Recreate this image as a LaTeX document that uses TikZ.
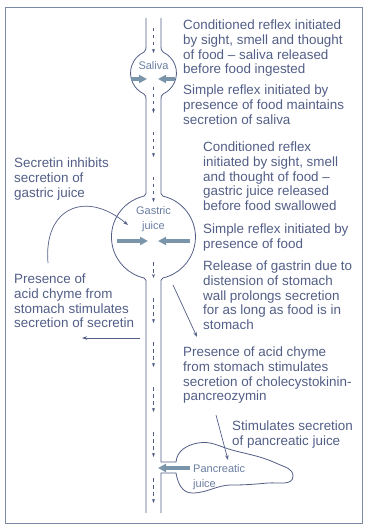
\documentclass[tikz,border=0pt]{standalone}
\usepackage{fontspec}
\setmainfont{Liberation Sans}
\usetikzlibrary{arrows.meta}
\usetikzlibrary{calc}

\definecolor{inkblue}{RGB}{82,94,134}
\definecolor{flowblue}{RGB}{122,148,170}
\definecolor{framegrey}{RGB}{125,138,165}
\definecolor{lablblue}{RGB}{105,125,160}

\tikzset{
    note/.style={anchor=north west, inner sep=0pt, align=left, text=inkblue,
        font=\fontsize{13.4}{14.6}\selectfont},
    lbl/.style={inner sep=0pt, align=center, text=lablblue,
        font=\fontsize{11}{15}\selectfont},
    wall/.style={draw=inkblue, line width=0.8pt},
    flow/.style={draw=inkblue, line width=0.7pt, dash pattern=on 3.5pt off 3.5pt,
        -{Stealth[length=4pt,width=3pt]}},
    push/.style={draw=flowblue, line width=3.5pt, -{Triangle[length=8pt,width=8pt]}},
    cue/.style={draw=inkblue, line width=0.7pt, -{Stealth[length=5pt,width=3.5pt]}},
}

\begin{document}
\begin{tikzpicture}[x=1pt,y=1pt]
    \useasboundingbox (0,0) rectangle (367,-526);
    \draw[framegrey, line width=0.9pt] (5,-7) rectangle (362,-523);

    % tube walls, bulging at the mouth and the stomach
    \draw[wall] (146,-18) -- (146,-46) to[out=-90,in=25] (143.8,-52.2)
        arc[start angle=115, end angle=245, radius=23] to[out=-25,in=90] (146,-100)
        -- (146,-190) to[out=-90,in=13] (144.0,-196.1)
        arc[start angle=103, end angle=257, radius=42] to[out=-13,in=90] (146,-284)
        -- (146,-513);
    \draw[wall] (161,-18) -- (161,-46) to[out=-90,in=155] (163.2,-52.2)
        arc[start angle=65, end angle=-65, radius=23] to[out=-155,in=90] (161,-100)
        -- (161,-190) to[out=-90,in=167] (162.9,-196.1)
        arc[start angle=77, end angle=-77, radius=42] to[out=-167,in=90] (161,-284)
        -- (161,-462) -- (176,-462)
        to[out=85,in=190] (198,-443) to[out=10,in=165] (232,-450)
        to[out=-15,in=155] (278,-464) to[out=-25,in=90] (293,-476)
        to[out=-90,in=5] (268,-483) to[out=185,in=0] (232,-485)
        to[out=180,in=0] (192,-493) to[out=180,in=-80] (176,-473)
        -- (161,-473) -- (161,-513);

    % food moving down the middle
    \foreach \s/\e in {28/53, 87/113, 132/157, 177/202, 262/278, 298/323,
                       342/367, 387/412, 432/457, 478/503} {
        \draw[flow] (153.5,-\s) -- (153.5,-\e);
    }

    % labels inside the tube
    \node[lbl] (saliva) at (153.5,-66) {Saliva};
    \node[lbl] (gastric) at (153.5,-219.5) {Gastric\\juice};
    \node[lbl, anchor=north west, align=left] (pancjuice) at (193,-464.5) {Pancreatic\\juice};

    % secretions pushed into the tube
    \coordinate (salL) at (131,-79);  \coordinate (salLtip) at (147,-79);
    \coordinate (salR) at (175,-79);  \coordinate (salRtip) at (158,-79);
    \coordinate (gasL) at (117,-241); \coordinate (gasLtip) at (148,-241);
    \coordinate (gasR) at (190,-241); \coordinate (gasRtip) at (158,-241);
    \coordinate (panR) at (190,-468); \coordinate (panRtip) at (158,-468);
    \draw[push] (salL) -- (salLtip);
    \draw[push] (salR) -- (salRtip);
    \draw[push] (gasL) -- (gasLtip);
    \draw[push] (gasR) -- (gasRtip);
    \draw[push] (panR) -- (panRtip);

    % notes
    \node[note] (condsal) at (183,-20) {Conditioned reflex initiated\\by sight, smell and thought\\of food \textendash\ saliva released\\before food ingested};
    \node[note] (simpsal) at (183,-85) {Simple reflex initiated by\\presence of food maintains\\secretion of saliva};
    \node[note] (condgas) at (203,-142) {Conditioned reflex\\initiated by sight, smell\\and thought of food \textendash\\gastric juice released\\before food swallowed};
    \node[note] (simpgas) at (203,-224) {Simple reflex initiated by\\presence of food};
    \node[note] (gastrin) at (203,-261) {Release of gastrin due to\\distension of stomach\\wall prolongs secretion\\for as long as food is in\\stomach};
    \node[note] (cckpz) at (183,-347) {Presence of acid chyme\\from stomach stimulates\\secretion of cholecystokinin-\\pancreozymin};
    \node[note] (stimpan) at (232,-421) {Stimulates secretion\\of pancreatic juice};
    \node[note] (secinh) at (14,-158) {Secretin inhibits\\secretion of\\gastric juice};
    \node[note] (acidsec) at (14,-274) {Presence of\\acid chyme from\\stomach stimulates\\secretion of secretin};

    % thin arrows
    \coordinate (inhfrom) at (48,-263);  \coordinate (inhto) at (128,-225);
    \coordinate (secfrom) at (140,-338); \coordinate (secto) at (82,-338);
    \coordinate (cckfrom) at (173,-285); \coordinate (cckto) at (197,-337);
    \coordinate (panfrom) at (216,-415); \coordinate (panto) at (228,-460);
    \draw[cue] (inhfrom) to[out=95,in=140,looseness=1.6] (inhto);
    \draw[cue] (secfrom) -- (secto);
    \draw[cue] (cckfrom) -- (cckto);
    \draw[cue] (panfrom) -- (panto);
\end{tikzpicture}
\end{document}
